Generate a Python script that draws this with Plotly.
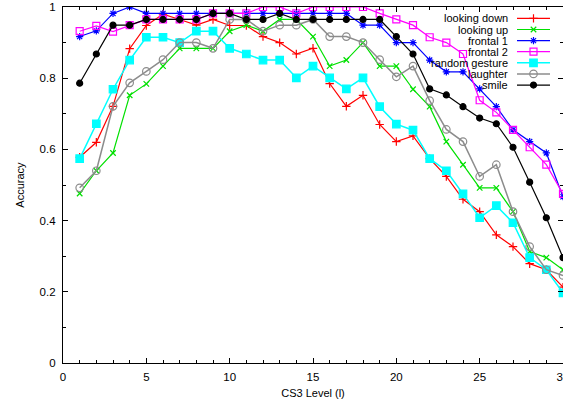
import plotly.graph_objects as go

levels = list(range(1, 31))

looking_down = [0.578, 0.620, 0.721, 0.883, 0.948, 0.980, 0.965, 0.949, 0.965, 0.948,
                0.948, 0.917, 0.900, 0.868, 0.884, 0.785, 0.721, 0.752, 0.670, 0.622,
                0.638, 0.574, 0.524, 0.460, 0.425, 0.360, 0.327, 0.279, 0.262, 0.213]
looking_up = [0.476, 0.540, 0.590, 0.752, 0.784, 0.834, 0.884, 0.884, 0.884, 0.932,
              0.949, 0.932, 0.965, 0.965, 0.917, 0.834, 0.851, 0.900, 0.834, 0.834,
              0.769, 0.720, 0.622, 0.557, 0.492, 0.492, 0.425, 0.313, 0.296, 0.262]
frontal_1 = [0.917, 0.933, 0.982, 1.000, 0.982, 0.982, 0.982, 0.982, 0.982, 0.982,
             0.982, 0.982, 0.982, 0.982, 0.982, 0.982, 0.982, 0.949, 0.949, 0.900,
             0.900, 0.851, 0.818, 0.818, 0.770, 0.720, 0.655, 0.622, 0.590, 0.467]
frontal_2 = [0.932, 0.947, 0.931, 0.949, 0.965, 0.965, 0.965, 0.965, 0.982, 0.982,
             0.982, 1.000, 1.000, 0.982, 1.000, 1.000, 1.000, 1.000, 0.982, 0.965,
             0.949, 0.915, 0.900, 0.868, 0.738, 0.704, 0.655, 0.606, 0.557, 0.475]
random_gesture = [0.574, 0.672, 0.769, 0.851, 0.915, 0.915, 0.900, 0.932, 0.932, 0.884,
                  0.868, 0.851, 0.851, 0.801, 0.834, 0.801, 0.770, 0.801, 0.720, 0.671,
                  0.654, 0.574, 0.540, 0.475, 0.408, 0.442, 0.394, 0.296, 0.262, 0.197]
laughter = [0.492, 0.540, 0.721, 0.787, 0.819, 0.852, 0.900, 0.900, 0.884, 0.965,
            0.965, 0.932, 0.949, 0.949, 0.965, 0.917, 0.917, 0.900, 0.852, 0.804,
            0.834, 0.737, 0.656, 0.622, 0.524, 0.557, 0.425, 0.327, 0.262, 0.246]
smile = [0.786, 0.868, 0.949, 0.949, 0.965, 0.965, 0.965, 0.965, 0.982, 0.982,
         0.965, 0.965, 0.982, 0.965, 0.965, 0.965, 0.965, 0.965, 0.965, 0.917,
         0.868, 0.770, 0.753, 0.720, 0.688, 0.672, 0.606, 0.508, 0.408, 0.296]

series_names = ["looking down", "looking up", "frontal 1", "frontal 2",
                "random gesture", "laughter", "smile"]
series_values = [looking_down, looking_up, frontal_1, frontal_2,
                 random_gesture, laughter, smile]

# line colour, marker symbol, marker size, line width
styles = [
    ("#ff0000", "cross-thin-open", 6, 1.2),
    ("#00e000", "x-thin-open", 5.5, 1.2),
    ("#0000ff", "asterisk-open", 6, 1.2),
    ("#ff00ff", "square-open", 7, 1.2),
    ("#00ffff", "square", 7.5, 1.5),
    ("#8c8c8c", "circle-open", 7.5, 1.5),
    ("#000000", "circle", 6, 1.2),
]

FONT = "Liberation Sans, Arial, sans-serif"

fig = go.Figure()

for name, vals, (color, symbol, size, lw) in zip(series_names, series_values, styles):
    fig.add_trace(go.Scatter(
        x=levels, y=vals, mode="lines+markers", name=name, showlegend=False,
        line=dict(color=color, width=lw),
        marker=dict(symbol=symbol, size=size, color=color,
                    line=dict(color=color, width=1.2)),
    ))

# key in the upper right: label right-aligned, sample line + symbol to its right
key_top = 0.968
key_step = 0.0312
key_text_x = 0.894
key_line = (0.908, 0.974)
for i, (name, (color, symbol, size, lw)) in enumerate(zip(series_names, styles)):
    ky = key_top - i * key_step
    fig.add_trace(go.Scatter(
        x=list(key_line), y=[ky, ky], mode="lines", showlegend=False,
        xaxis="x2", yaxis="y2", hoverinfo="skip",
        line=dict(color=color, width=lw),
    ))
    fig.add_trace(go.Scatter(
        x=[sum(key_line) / 2], y=[ky], mode="markers", showlegend=False,
        xaxis="x2", yaxis="y2", hoverinfo="skip",
        marker=dict(symbol=symbol, size=size, color=color,
                    line=dict(color=color, width=1.2)),
    ))
    fig.add_annotation(
        x=key_text_x, y=ky, xref="x2", yref="y2", text=name, showarrow=False,
        xanchor="right", yanchor="middle",
        font=dict(family=FONT, size=11, color="#000000"),
    )

axis_common = dict(
    showgrid=False, zeroline=False, showline=True, linecolor="#000000", linewidth=1.2,
    mirror="allticks", ticks="inside", ticklen=5, tickwidth=1, tickcolor="#000000",
    tickfont=dict(family=FONT, size=11.5, color="#000000"), automargin=False,
    ticklabeloverflow="allow",
)

fig.update_layout(
    width=563, height=402,
    margin=dict(l=63, r=0, t=7, b=39),
    paper_bgcolor="#ffffff", plot_bgcolor="#ffffff",
    xaxis=dict(
        range=[0, 30], tickvals=[0, 5, 10, 15, 20, 25, 30],
        minor=dict(dtick=1, tick0=0, ticks="inside", ticklen=2.5, tickcolor="#000000"),
        title=dict(text="CS3 Level (l)", font=dict(family=FONT, size=11, color="#000000"),
                   standoff=7),
        ticklabelstandoff=3,
        **axis_common,
    ),
    yaxis=dict(
        range=[0, 1], tickvals=[0, 0.2, 0.4, 0.6, 0.8, 1], ticktext=["0", "0.2", "0.4", "0.6", "0.8", "1"],
        minor=dict(dtick=0.1, tick0=0, ticks="inside", ticklen=2.5, tickcolor="#000000"),
        title=dict(text="Accuracy", font=dict(family=FONT, size=11, color="#000000"),
                   standoff=12),
        ticklabelstandoff=4,
        **axis_common,
    ),
    xaxis2=dict(overlaying="x", range=[0, 1], visible=False, fixedrange=True),
    yaxis2=dict(overlaying="y", range=[0, 1], visible=False, fixedrange=True),
)

fig.write_html("out.html")
